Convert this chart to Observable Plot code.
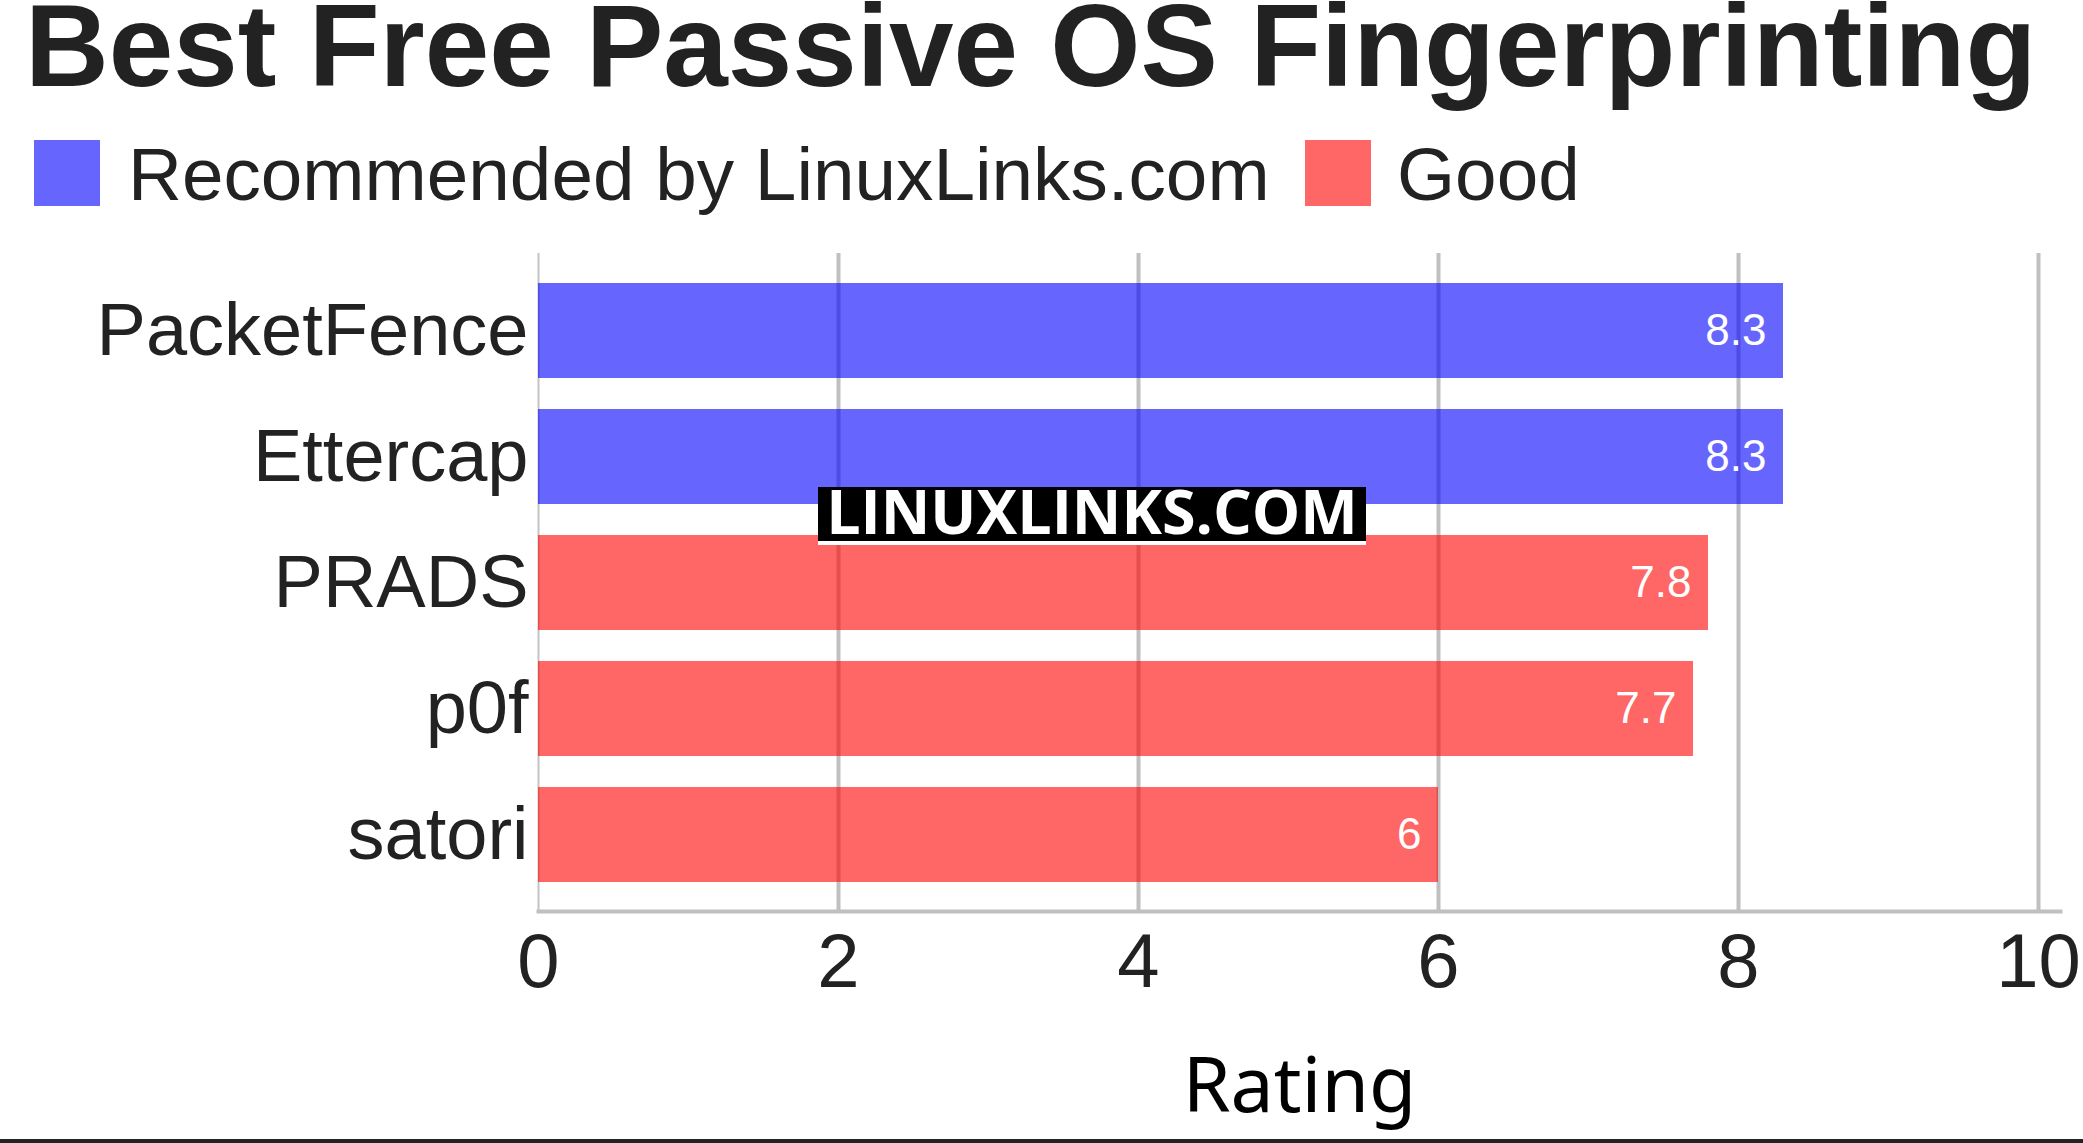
<!DOCTYPE html>
<html>
<head>
<meta charset="utf-8">
<script src="https://cdn.jsdelivr.net/npm/d3@7"></script>
<script src="https://cdn.jsdelivr.net/npm/@observablehq/plot@0.6"></script>
<style>
  html, body { margin: 0; padding: 0; background: #fff; }
  #page { position: relative; width: 2083px; height: 1143px; overflow: hidden; font-family: "Liberation Sans", Arial, sans-serif; color: #222; }
  #title { position: absolute; left: 25px; top: 0px; font-size: 116px; font-weight: bold; line-height: 0.8; white-space: nowrap; }
  .sw { position: absolute; top: 140px; width: 66px; height: 66px; }
  .lt { position: absolute; top: 137px; font-size: 74.7px; line-height: 1; white-space: nowrap; }
  #chart { position: absolute; left: 0; top: 230px; }
  #wm { position: absolute; left: 818px; top: 487px; width: 548px; height: 54px; background: #000; border-bottom: 4px solid #fff; color: #fff; font-family: "Open Sans", sans-serif; font-weight: 700; font-size: 61px; text-align: center; white-space: nowrap; }
  #wm span { position: absolute; left: 0; right: 0; top: -3px; line-height: 54px; }
  #bottomline { position: absolute; left: 0; top: 1139px; width: 2083px; height: 4px; background: #222; }
</style>
</head>
<body>
<div id="page">
  <div id="title"></div>
  <div id="legend"></div>
  <div id="chart"></div>
  <div id="wm"><span>LINUXLINKS.COM</span></div>
  <div id="bottomline"></div>
</div>
<script>
const titleText = "Best Free Passive OS Fingerprinting";
const names = ["PacketFence", "Ettercap", "PRADS", "p0f", "satori"];
const ratings = [8.3, 8.3, 7.8, 7.7, 6];
const groups = ["Recommended by LinuxLinks.com", "Recommended by LinuxLinks.com", "Good", "Good", "Good"];
const groupNames = ["Recommended by LinuxLinks.com", "Good"];
const groupColors = ["#0000ff", "#ff0000"];
const legendColors = ["#6666ff", "#ff6666"];
const xTicks = [0, 2, 4, 6, 8, 10];
const xLabel = "Rating";

document.getElementById("title").textContent = titleText;

// legend
const legend = document.getElementById("legend");
const legendPos = [{sw: 34, tx: 128}, {sw: 1305, tx: 1397}];
groupNames.forEach((g, i) => {
  const sw = document.createElement("div");
  sw.className = "sw";
  sw.style.left = legendPos[i].sw + "px";
  sw.style.background = legendColors[i];
  legend.appendChild(sw);
  const t = document.createElement("div");
  t.className = "lt";
  t.style.left = legendPos[i].tx + "px";
  t.textContent = g;
  legend.appendChild(t);
});

const data = names.map((n, i) => ({name: n, rating: ratings[i], group: groups[i]}));

const chart = Plot.plot({
  width: 2083,
  height: 900,
  marginTop: 23,
  marginBottom: 219,
  marginLeft: 538,
  marginRight: 45,
  style: {fontFamily: "'Liberation Sans', Arial, sans-serif", color: "#222", background: "transparent", overflow: "visible"},
  x: {domain: [0, 10]},
  y: {domain: names, paddingInner: 0.25, paddingOuter: 0.228},
  color: {domain: groupNames, range: groupColors},
  marks: [
    Plot.ruleX(xTicks.filter(d => d > 0), {stroke: "#c0c0c0", strokeWidth: 4}),
    Plot.ruleX([0], {stroke: "#c4c4c4", strokeWidth: 2}),
    Plot.barX(data, {x: "rating", y: "name", fill: "group", fillOpacity: 0.6}),
    Plot.frame({anchor: "bottom", stroke: "#c0c0c0", strokeWidth: 4, insetRight: -22}),
    Plot.text(data, {x: "rating", y: "name", text: d => String(d.rating), textAnchor: "end", dx: -17, fill: "#fff", fontSize: 44}),
    Plot.axisX({ticks: xTicks, tickSize: 0, tickPadding: 22, fontSize: 76, label: null, tickFormat: d => String(d), fill: "#222"}),
    Plot.axisY({tickSize: 0, tickPadding: 10, fontSize: 74, label: null, fill: "#222"}),
    Plot.text([xLabel], {frameAnchor: "bottom", lineAnchor: "middle", dx: 11, dy: 176, fontSize: 77, fontFamily: "'Noto Sans', sans-serif", fill: "#000"})
  ]
});
document.getElementById("chart").appendChild(chart);
</script>
</body>
</html>
